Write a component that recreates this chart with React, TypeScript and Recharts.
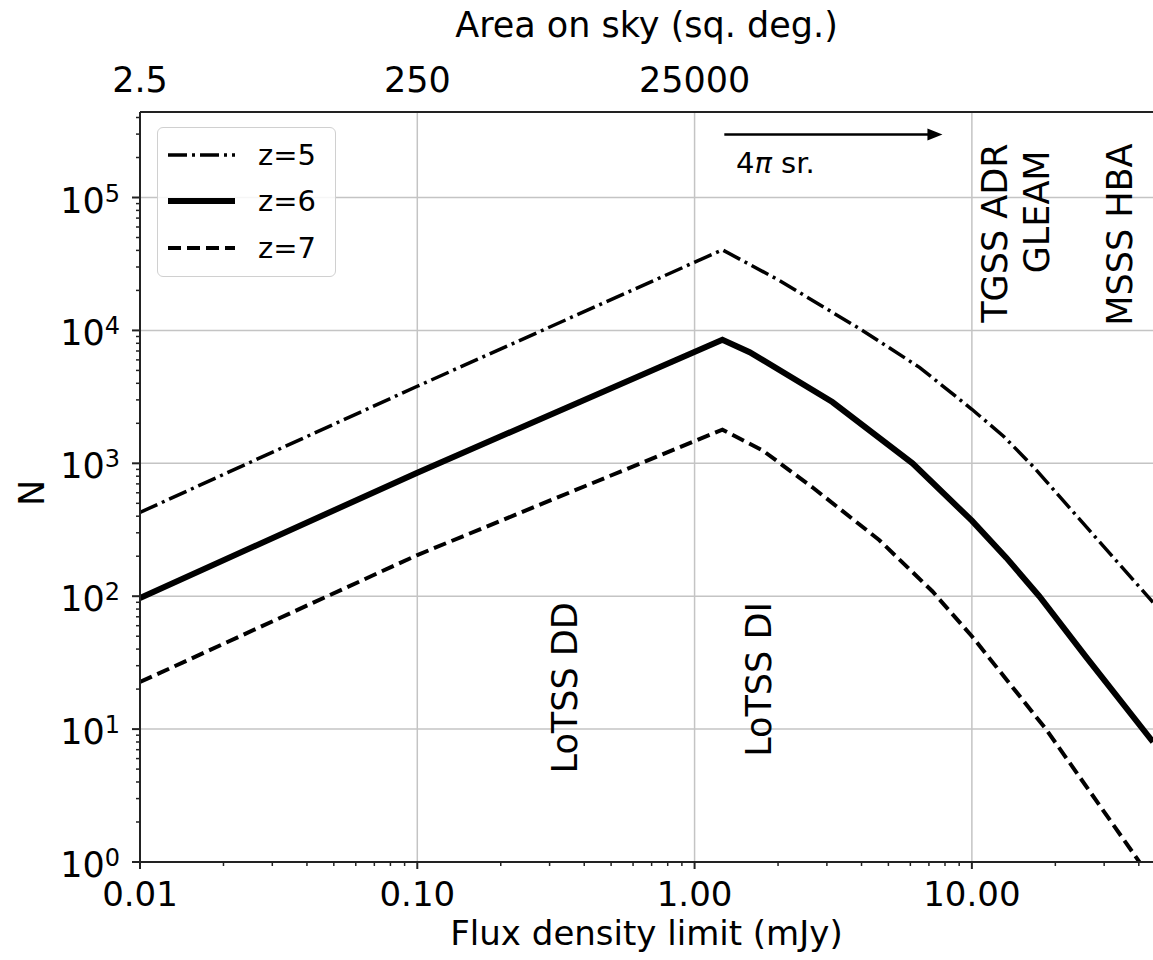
import React from 'react';
import { LineChart, Line, XAxis, YAxis, CartesianGrid, Legend, ReferenceDot, ReferenceLine } from 'recharts';

const FONT = '"DejaVu Sans", sans-serif';

// flux density limit (mJy) vs number of sources N, one set per redshift
const fluxZ5 = [0.01, 0.1, 1.26, 2.02, 4.03, 6.47, 10, 13, 16.6, 27, 45];
const countZ5 = [427, 3800, 40400, 23800, 10000, 5270, 2550, 1600, 950, 300, 90];

const fluxZ6 = [0.01, 0.1, 1.26, 1.58, 3.14, 6.11, 10, 13.3, 17.5, 25.8, 45];
const countZ6 = [97, 850, 8510, 6860, 2890, 1000, 370, 195, 100, 35, 8];

const fluxZ7 = [0.01, 0.1, 1.26, 1.76, 2.66, 4.63, 7.2, 10, 18.5, 41.2, 45];
const countZ7 = [22.6, 204, 1790, 1250, 660, 265, 109, 50, 10, 0.93, 0.72];

// axis ticks
const xMajor = [0.01, 0.1, 1, 10];
const xMajorLabels = ['0.01', '0.10', '1.00', '10.00'];
const xMinor = [
  0.02, 0.03, 0.04, 0.05, 0.06, 0.07, 0.08, 0.09,
  0.2, 0.3, 0.4, 0.5, 0.6, 0.7, 0.8, 0.9,
  2, 3, 4, 5, 6, 7, 8, 9,
  20, 30, 40,
];
const yMajor = [1, 10, 100, 1000, 10000, 100000];
const yMajorExp = ['0', '1', '2', '3', '4', '5'];
const yMinor = [
  2, 3, 4, 5, 6, 7, 8, 9,
  20, 30, 40, 50, 60, 70, 80, 90,
  200, 300, 400, 500, 600, 700, 800, 900,
  2000, 3000, 4000, 5000, 6000, 7000, 8000, 9000,
  20000, 30000, 40000, 50000, 60000, 70000, 80000, 90000,
  200000, 300000, 400000,
];
// top axis: area on sky for the same flux limits
const areaTicks = [0.01, 0.1, 1];
const areaLabels = ['2.5', '250', '25000'];

// survey labels (flux, N at top of the rotated text)
const surveyNames = ['LoTSS DD', 'LoTSS DI', 'TGSS ADR', 'GLEAM', 'MSSS HBA'];
const surveyFlux = [0.378, 1.89, 13.4, 19.0, 37.8];
const surveyTopN = [90, 90, 2.55e5, 2.26e5, 2.55e5];

// all-sky arrow
const arrowFlux = [1.28, 6.97, 7.83];
const arrowN = 2.98e5;
const arrowTextFlux = 1.41;
const arrowTextN = 1.54e5;

const toRows = (flux: number[], counts: number[]) => flux.map((s, i) => ({ s, n: counts[i] }));

const series = [
  { name: 'z=5', data: toRows(fluxZ5, countZ5), dash: '19 5 3 5', width: 3.5 },
  { name: 'z=6', data: toRows(fluxZ6, countZ6), dash: undefined, width: 6 },
  { name: 'z=7', data: toRows(fluxZ7, countZ7), dash: '13 6', width: 4 },
];

const AXIS = '#222';

function BottomTick(props: any) {
  const { x, y, payload } = props;
  const i = xMajor.indexOf(payload.value);
  const major = i >= 0;
  return (
    <g>
      <line x1={x} x2={x} y1={y} y2={y + (major ? 7 : 4)} stroke={AXIS} strokeWidth={major ? 2 : 1.5} />
      {major && (
        <text x={x} y={y + 44} textAnchor="middle" fontFamily={FONT} fontSize={34} fill="#000">
          {xMajorLabels[i]}
        </text>
      )}
    </g>
  );
}

function TopTick(props: any) {
  const { x, y, payload } = props;
  const i = areaTicks.indexOf(payload.value);
  return (
    <text x={x} y={y - 20} textAnchor="middle" fontFamily={FONT} fontSize={35} fill="#000">
      {areaLabels[i]}
    </text>
  );
}

function LeftTick(props: any) {
  const { x, y, payload } = props;
  const i = yMajor.indexOf(payload.value);
  const major = i >= 0;
  return (
    <g>
      <line x1={x - (major ? 8 : 4)} x2={x} y1={y} y2={y} stroke={AXIS} strokeWidth={major ? 2 : 1.5} />
      {major && (
        <text x={x - 20} y={y + 15} textAnchor="end" fontFamily={FONT} fontSize={35} fill="#000">
          10
          <tspan dy={-11} fontSize={24}>
            {yMajorExp[i]}
          </tspan>
        </text>
      )}
    </g>
  );
}

function LegendBox() {
  const rows = [27, 73, 120];
  return (
    <div style={{ width: 179, height: 150, border: '1.5px solid #d0d0d0', borderRadius: 6, background: 'rgba(255,255,255,0.85)', boxSizing: 'border-box' }}>
      <svg width={176} height={147} style={{ display: 'block' }}>
        {series.map((s, i) => (
          <g key={s.name}>
            <line x1={10} x2={77} y1={rows[i]} y2={rows[i]} stroke="#000" strokeWidth={s.width} strokeDasharray={s.dash} />
            <text x={100} y={rows[i] + 10} fontFamily={FONT} fontSize={29} fill="#000">
              {s.name}
            </text>
          </g>
        ))}
      </svg>
    </div>
  );
}

export default function App() {
  return (
    <div style={{ position: 'absolute', left: 0, top: 0, width: 1153, height: 960, background: '#fff', fontFamily: FONT }}>
      <LineChart width={1153} height={960} margin={{ top: 0, right: 0, bottom: 0, left: 0 }}>
        <CartesianGrid
          xAxisId="flux"
          stroke="#c4c4c4"
          strokeWidth={1.5}
          verticalValues={xMajor}
          horizontalValues={yMajor}
        />
        <XAxis
          xAxisId="flux"
          dataKey="s"
          type="number"
          scale="log"
          domain={[0.01, 45]}
          allowDataOverflow
          ticks={[...xMajor, ...xMinor]}
          interval={0}
          height={98}
          tickLine={false}
          tickSize={0}
          tickMargin={0}
          axisLine={{ stroke: AXIS, strokeWidth: 2 }}
          tick={(p: any) => <BottomTick {...p} />}
          label={{ value: 'Flux density limit (mJy)', position: 'insideBottom', offset: 15, fontSize: 34, fill: '#000', fontFamily: FONT }}
        />
        <XAxis
          xAxisId="area"
          orientation="top"
          dataKey="s"
          type="number"
          scale="log"
          domain={[0.01, 45]}
          allowDataOverflow
          ticks={areaTicks}
          interval={0}
          height={112}
          tickLine={false}
          tickSize={0}
          tickMargin={0}
          axisLine={{ stroke: AXIS, strokeWidth: 2 }}
          tick={(p: any) => <TopTick {...p} />}
          label={{ value: 'Area on sky (sq. deg.)', position: 'insideTop', offset: 12, fontSize: 35, fill: '#000', fontFamily: FONT }}
        />
        <YAxis
          dataKey="n"
          type="number"
          scale="log"
          domain={[1, 440000]}
          allowDataOverflow
          ticks={[...yMajor, ...yMinor]}
          interval={0}
          width={140}
          tickLine={false}
          tickSize={0}
          tickMargin={0}
          axisLine={{ stroke: AXIS, strokeWidth: 2 }}
          tick={(p: any) => <LeftTick {...p} />}
          label={{
            content: (p: any) => {
              const vb = p.viewBox || { y: 112, height: 750 };
              const cy = vb.y + vb.height / 2 + 6;
              return (
                <text x={44} y={cy} transform={`rotate(-90 44 ${cy})`} textAnchor="middle" fontFamily={FONT} fontSize={35} fill="#000">
                  N
                </text>
              );
            },
          }}
        />
        {series.map((s) => (
          <Line
            key={s.name}
            xAxisId="flux"
            data={s.data}
            dataKey="n"
            name={s.name}
            type="linear"
            stroke="#000"
            strokeWidth={s.width}
            strokeDasharray={s.dash}
            dot={false}
            activeDot={false}
            isAnimationActive={false}
          />
        ))}
        <ReferenceLine
          xAxisId="flux"
          segment={[{ x: arrowFlux[0], y: arrowN }, { x: arrowFlux[1], y: arrowN }]}
          stroke="#000"
          strokeWidth={2.5}
        />
        <ReferenceDot
          xAxisId="flux"
          x={arrowFlux[2]}
          y={arrowN}
          shape={(p: any) => (
            <polygon points={`${p.cx},${p.cy} ${p.cx - 15},${p.cy - 6} ${p.cx - 15},${p.cy + 6}`} fill="#000" />
          )}
        />
        <ReferenceDot
          xAxisId="flux"
          x={arrowTextFlux}
          y={arrowTextN}
          shape={(p: any) => (
            <text x={p.cx} y={p.cy} fontFamily={FONT} fontSize={29} fill="#000">
              4<tspan fontStyle="italic">π</tspan> sr.
            </text>
          )}
        />
        {surveyNames.map((name, i) => (
          <ReferenceDot
            key={name}
            xAxisId="flux"
            x={surveyFlux[i]}
            y={surveyTopN[i]}
            shape={(p: any) => (
              <text
                x={p.cx}
                y={p.cy}
                transform={`rotate(-90 ${p.cx} ${p.cy})`}
                textAnchor="end"
                fontFamily={FONT}
                fontSize={35}
                fill="#000"
              >
                {name}
              </text>
            )}
          />
        ))}
        <Legend
          layout="vertical"
          align="center"
          verticalAlign="middle"
          wrapperStyle={{ left: 157, top: 127, width: 179, height: 150 }}
          content={() => <LegendBox />}
        />
      </LineChart>
    </div>
  );
}
